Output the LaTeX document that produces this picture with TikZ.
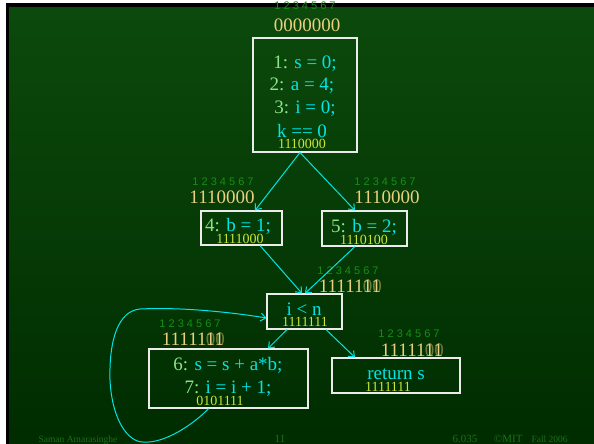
\documentclass[tikz,border=0pt]{standalone}
\usepackage{fontspec}
\setmainfont{Liberation Serif}
\newfontfamily\idxfont{Liberation Sans}
\usetikzlibrary{arrows.meta}

\definecolor{bgtop}{RGB}{12,74,12}
\definecolor{bgbot}{RGB}{0,44,0}
\definecolor{codecyan}{RGB}{0,230,230}
\definecolor{numgreen}{RGB}{140,228,140}
\definecolor{khaki}{RGB}{232,208,128}
\definecolor{bitgreen}{RGB}{200,230,60}
\definecolor{idxgreen}{RGB}{24,140,24}
\definecolor{footgreen}{RGB}{26,112,26}

\newcommand\lnum[1]{\textcolor{numgreen}{#1}}

\tikzset{
    blk/.style={draw=white!92!black, line width=1.1pt, inner sep=0pt},
    edge/.style={codecyan, line width=1pt, -{Straight Barb[length=5pt,width=8pt]}},
    code/.style={anchor=base, text=codecyan, font=\fontsize{19}{19}\selectfont},
    bits/.style={anchor=base, text=bitgreen, font=\fontsize{14}{14}\selectfont},
    vec/.style={anchor=base, text=khaki, font=\fontsize{19}{19}\selectfont},
    idx/.style={anchor=base, text=idxgreen, font=\idxfont\fontsize{11}{11}\selectfont},
    foot/.style={anchor=base, text=footgreen}
}

\begin{document}
\begin{tikzpicture}[x=1pt,y=-1pt]

            \useasboundingbox (0,0) rectangle (594,444);
            \shade[top color=bgtop, bottom color=bgbot] (0,0) rectangle (594,444);

            \fill[white] (0,0) rectangle (594,3);
            \fill[white] (0,0) rectangle (6,444);
            \fill[black] (6,3) rectangle (594,7);
            \fill[black] (6,3) rectangle (9,444);

            % bit vector above the entry block
            \node[idx] (i0) at (305,10) {1 2 3 4 5 6 7};
            \node[vec] (v0) at (307,32) {0000000};

            % blocks
            \node[blk, minimum width=104pt, minimum height=114pt] (entry) at (305,95) {};
            \node[blk, minimum width=81pt, minimum height=34pt] (b1) at (241.5,228) {};
            \node[blk, minimum width=85pt, minimum height=35pt] (b2) at (364.5,228.5) {};
            \node[blk, minimum width=75pt, minimum height=35pt] (test) at (304.5,311.5) {};
            \node[blk, minimum width=159pt, minimum height=59pt] (body) at (228.5,378.5) {};
            \node[blk, minimum width=128pt, minimum height=35pt] (exit) at (396,375.5) {};

            % entry block
            \node[code] at (305,68) {\lnum{1:} s = 0;};
            \node[code] at (302,90) {\lnum{2:} a = 4;};
            \node[code] at (305,113) {\lnum{3:} i = 0;};
            \node[code] at (302,137) {k == 0};
            \node[bits] at (302,148) {1110000};

            % b = 1
            \node[idx] at (223,185) {1 2 3 4 5 6 7};
            \node[vec] at (222,203) {1110000};
            \node[code] at (238,231) {\lnum{4:} b = 1;};
            \node[bits] at (240,243) {1111000};

            % b = 2
            \node[idx] at (385,185) {1 2 3 4 5 6 7};
            \node[vec] at (387,203) {1110000};
            \node[code] at (364,232) {\lnum{5:} b = 2;};
            \node[bits] at (364,244) {1110100};

            % loop test
            \node[idx] at (348,274) {1 2 3 4 5 6 7};
            \node[vec] at (350,292) {1111111};
            \node[vec, opacity=0.45] at (350,292) {\phantom{11111}00};
            \node[code] at (304,315) {i < n};
            \node[bits] at (305,326) {1111111};

            % loop body
            \node[idx] at (190,327) {1 2 3 4 5 6 7};
            \node[vec] at (193,345) {1111111};
            \node[vec, opacity=0.45] at (193,345) {\phantom{11111}00};
            \node[code] at (228,370) {\lnum{6:} s = s + a*b;};
            \node[code] at (228,393) {\lnum{7:} i = i + 1;};
            \node[bits] at (220,405) {0101111};

            % exit
            \node[idx] at (409,337) {1 2 3 4 5 6 7};
            \node[vec] at (412,356) {1111111};
            \node[vec, opacity=0.45] at (412,356) {\phantom{11111}00};
            \node[code] at (396,379) {return s};
            \node[bits] at (388,391) {1111111};

            % edges
            \draw[edge] ([xshift=-5pt]entry.south) -- ([xshift=13.5pt]b1.north);
            \draw[edge] ([xshift=-5pt]entry.south) -- ([xshift=-9.5pt]b2.north);
            \draw[edge] ([xshift=18.5pt]b1.south) -- ([xshift=-2.5pt]test.north);
            \draw[edge] ([xshift=-9.5pt]b2.south) -- ([xshift=0.5pt]test.north);
            \draw[edge] ([xshift=-17.5pt]test.south) -- ([xshift=39.5pt]body.north);
            \draw[edge] ([xshift=21.5pt]test.south) -- ([xshift=-41pt]exit.north);
            \draw[edge] ([xshift=-20pt]body.south)
                .. controls (195,423) and (165,444) .. (143,442)
                .. controls (128,442) and (112,420) .. (110,380)
                .. controls (109,340) and (118,311) .. (140,309)
                .. controls (180,307) and (230,312) .. ([yshift=-6.5pt]test.west);

            % footer
            \node[foot, font=\fontsize{9.5}{9.5}\selectfont] at (78,442) {Saman Amarasinghe};
            \node[foot, font=\fontsize{11}{11}\selectfont] at (280,442) {11};
            \node[foot, font=\fontsize{11}{11}\selectfont] at (465,442) {6.035};
            \node[foot, font=\fontsize{11}{11}\selectfont, anchor=base east] at (526,442) {©MIT};
            \node[foot, font=\fontsize{9.5}{9.5}\selectfont, anchor=base west] at (528,442) {Fall 2006};

\end{tikzpicture}
\end{document}
